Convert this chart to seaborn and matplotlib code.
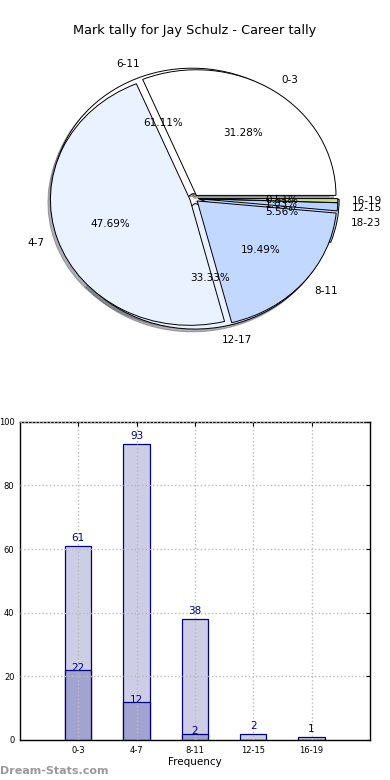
import matplotlib
matplotlib.use("agg")
import matplotlib.pyplot as plt
import seaborn as sns

title = 'Mark tally for Jay Schulz - Career tally'

# mark tally per quarter (outer pie + bars)
mark_labels = ['0-3', '4-7', '8-11', '12-15', '16-19']
mark_counts = [61, 93, 38, 2, 1]
mark_colors = ['#ffffff', '#eaf1ff', '#c2d8ff', '#b8d2ff', '#c8e08c']

# second tally drawn underneath
span_labels = ['6-11', '12-17', '18-23']
span_counts = [22, 12, 2]
span_colors = ['#ffffff', '#eaf1ff', '#c2d8ff']

# darker bar series
sub_counts = [22, 12, 2, 0, 0]

sns.set_style("white")
plt.rcParams['font.family'] = ['DejaVu Sans']
plt.rcParams['text.color'] = 'black'
plt.rcParams['axes.labelcolor'] = 'black'
plt.rcParams['xtick.color'] = 'black'
plt.rcParams['ytick.color'] = 'black'

fig = plt.figure(figsize=(3.9, 7.8), dpi=100)

# ---- pie ----
shadow = dict(ox=-0.013, oy=-0.016, shade=0.6)
pax = fig.add_axes([0.05, 0.5442, 0.895, 0.4026])
pax.pie(span_counts, labels=span_labels, colors=span_colors, autopct='%.2f%%',
        explode=[0.04] * len(span_counts), shadow=shadow, startangle=0,
        wedgeprops=dict(edgecolor='black', linewidth=0.7),
        textprops=dict(fontsize=7.5, color='black'))
pax.pie(mark_counts, labels=mark_labels, colors=mark_colors, autopct='%.2f%%',
        explode=[0.03] * len(mark_counts), shadow=shadow, startangle=0,
        wedgeprops=dict(edgecolor='black', linewidth=0.7),
        textprops=dict(fontsize=7.5, color='black'))
pax.set_aspect('auto')
pax.set_xlim(-1.25, 1.25)
pax.set_ylim(-1.25, 1.25)
fig.text(0.5, 0.9615, title, ha='center', va='center', fontsize=9.3)

# ---- bars ----
bax = fig.add_axes([0.0513, 0.0513, 0.897, 0.408])
sns.barplot(x=mark_labels, y=mark_counts, color='#cdcde6', width=0.45,
            edgecolor='#000080', linewidth=0.9, saturation=1, ax=bax)
sns.barplot(x=mark_labels, y=sub_counts, color='#a3a3d1', width=0.45,
            edgecolor='#000080', linewidth=0.9, saturation=1, ax=bax)
bax.bar_label(bax.containers[0], labels=[str(v) for v in mark_counts],
              color='#000080', fontsize=7.5, padding=2)
bax.bar_label(bax.containers[1], labels=[str(v) if v else '' for v in sub_counts],
              color='#000080', fontsize=7.5, padding=-2)

bax.set_xlim(-1, 5)
bax.set_ylim(0, 100)
bax.set_yticks(range(0, 101, 20))
bax.set_xlabel('Frequency', fontsize=7.5, labelpad=2)
bax.set_ylabel('')
bax.tick_params(axis='both', labelsize=6, direction='in', length=3,
                top=True, right=True, pad=4)
bax.set_axisbelow(False)
bax.grid(True, linestyle=':', color='#bbbbbb', linewidth=1)
for sp in bax.spines.values():
    sp.set_color('black')
    sp.set_linewidth(1)

fig.text(0.0, 0.0115, 'Dream-Stats.com', ha='left', va='center',
         fontsize=8, color='#999999', fontweight='bold')

fig.savefig('out.png', dpi=100)
